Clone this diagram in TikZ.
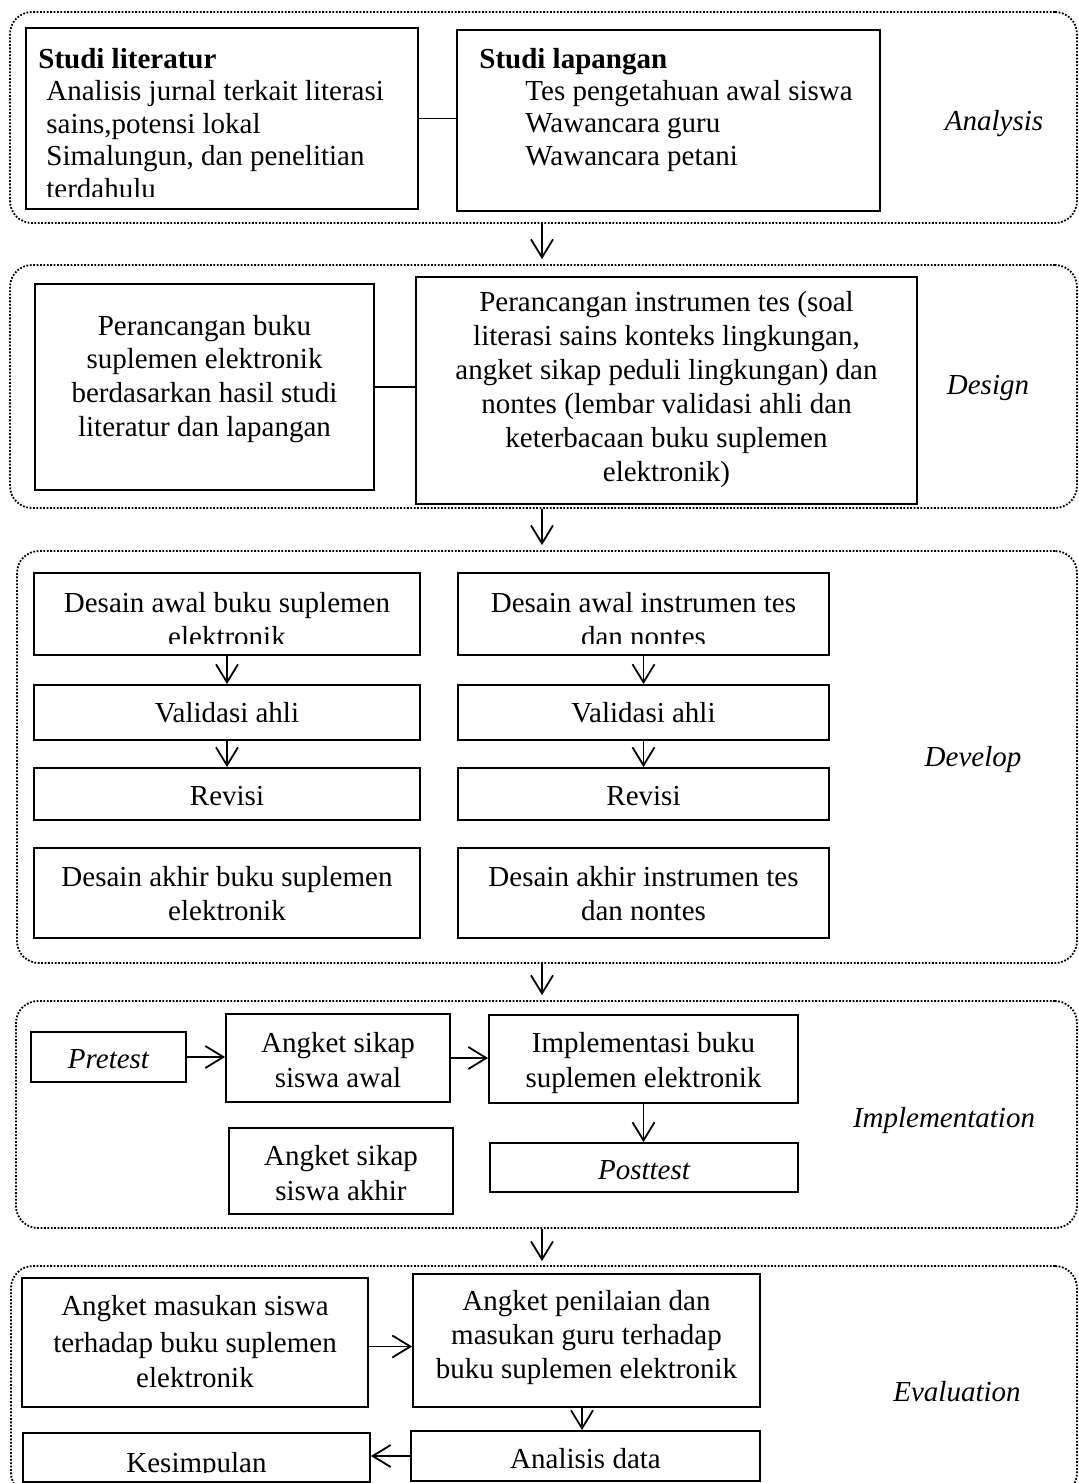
\documentclass[tikz,border=0pt]{standalone}
\usepackage{fontspec}
\setmainfont{Liberation Serif}
\usetikzlibrary{arrows.meta,fit,calc}
\tikzset{
  box/.style={draw, line width=0.95pt, inner sep=0pt, fit={#1}},
  phase/.style={draw, line width=0.9pt, dash pattern=on 0.9pt off 0.8pt, rounded corners=11pt, inner sep=0pt, fit={#1}},
  arr/.style={line width=0.9pt, -{Straight Barb[length=9pt,width=11pt]}},
  link/.style={line width=0.6pt},
  tx/.style={font=\fontsize{14.5}{17}\selectfont, inner sep=0pt, anchor=base},
  txl/.style={tx, anchor=base west},
  txb/.style={txl, font=\fontsize{14.5}{17}\selectfont\bfseries},
  txi/.style={tx, font=\fontsize{14.5}{17}\selectfont\itshape},
}
\begin{document}
\begin{tikzpicture}[x=0.5pt,y=-0.5pt]
\useasboundingbox (0,0) rectangle (1078,1483);
\clip (0,0) rectangle (1078,1483);
\coordinate (mx) at (542,0);
\coordinate (ax) at (582,0);

% ---------------- Analysis
\node[phase={(10,12) (1077,223)}] (fa) {};
\node[box={(26,28) (418,209)}] (sl) {};
\node[box={(457,30) (880,211)}] (slp) {};
\draw[link] (sl.east) -- (sl.east -| slp.west);
\node[txb] (sl1) at (38,68) {Studi literatur};
\node[txl] (sl2) at (46,100.5) {Analisis jurnal terkait literasi};
\node[txl] (sl3) at (46,133) {sains,potensi lokal};
\node[txl] (sl4) at (46,165.5) {Simalungun, dan penelitian};
\begin{scope}
\clip (26,28) rectangle (418,196);
\node[txl] (sl5) at (46,198) {terdahulu};
\end{scope}
\node[txb] (sp1) at (479,68) {Studi lapangan};
\node[txl] (sp2) at (525,100) {Tes pengetahuan awal siswa};
\node[txl] (sp3) at (525,132.5) {Wawancara guru};
\node[txl] (sp4) at (525,165) {Wawancara petani};
\node[txi] (lana) at (994,130) {Analysis};

% ---------------- Design
\node[phase={(10,265) (1077,508)}] (fd) {};
\draw[arr] (fa.south -| mx) -- ($(fd.north -| mx)+(0,-5)$);
\node[box={(35,284) (374,490)}] (dl) {};
\node[box={(416,277) (917,504)}] (dr) {};
\draw[link] (dl.east) -- (dl.east -| dr.west);
\node[tx] (dl1) at (204.5,335) {Perancangan buku};
\node[tx] (dl2) at (204.5,368) {suplemen elektronik};
\node[tx] (dl3) at (204.5,402) {berdasarkan hasil studi};
\node[tx] (dl4) at (204.5,436) {literatur dan lapangan};
\node[tx] (dr1) at (666.5,311) {Perancangan instrumen tes (soal};
\node[tx] (dr2) at (666.5,345) {literasi sains konteks lingkungan,};
\node[tx] (dr3) at (666.5,379) {angket sikap peduli lingkungan) dan};
\node[tx] (dr4) at (666.5,413) {nontes (lembar validasi ahli dan};
\node[tx] (dr5) at (666.5,447) {keterbacaan buku suplemen};
\node[tx] (dr6) at (666.5,481) {elektronik)};
\node[txi] (ldes) at (988,394) {Design};

% ---------------- Develop
\node[phase={(17,551) (1077,963)}] (fv) {};
\draw[arr] (fd.south -| mx) -- ($(fv.north -| mx)+(0,-5)$);
\node[box={(34,573) (420,655)}] (a1) {};
\node[box={(34,685) (420,740)}] (a2) {};
\node[box={(34,768) (420,820)}] (a3) {};
\node[box={(34,848) (420,938)}] (a4) {};
\node[box={(458,573) (829,655)}] (b1) {};
\node[box={(458,685) (829,740)}] (b2) {};
\node[box={(458,768) (829,820)}] (b3) {};
\node[box={(458,848) (829,938)}] (b4) {};
\draw[arr] (a1.south) -- (a2.north);
\draw[arr] (a2.south) -- (a3.north);
\draw[arr] (b1.south) -- (b2.north);
\draw[arr] (b2.south) -- (b3.north);
\node[tx] (a1t1) at (227,612) {Desain awal buku suplemen};
\node[tx] (b1t1) at (643.5,612) {Desain awal instrumen tes};
\begin{scope}
\clip (34,573) rectangle (829,643);
\node[tx] (a1t2) at (227,646) {elektronik};
\node[tx] (b1t2) at (643.5,646) {dan nontes};
\end{scope}
\node[tx] (a2t) at (227,722) {Validasi ahli};
\node[tx] (b2t) at (643.5,722) {Validasi ahli};
\node[tx] (a3t) at (227,805) {Revisi};
\node[tx] (b3t) at (643.5,805) {Revisi};
\node[tx] (a4t1) at (227,886) {Desain akhir buku suplemen};
\node[tx] (a4t2) at (227,920) {elektronik};
\node[tx] (b4t1) at (643.5,886) {Desain akhir instrumen tes};
\node[tx] (b4t2) at (643.5,920) {dan nontes};
\node[txi] (ldev) at (973,766) {Develop};

% ---------------- Implementation
\node[phase={(16,1001) (1077,1228)}] (fi) {};
\draw[arr] (fv.south -| mx) -- ($(fi.north -| mx)+(0,-5)$);
\node[box={(31,1032) (186,1082)}] (pre) {};
\node[box={(226,1014) (450,1102)}] (asa) {};
\node[box={(489,1015) (798,1103)}] (imp) {};
\node[box={(490,1143) (798,1192)}] (post) {};
\node[box={(229,1128) (453,1214)}] (ask) {};
\draw[arr] (pre.east) -- (pre.east -| asa.west);
\draw[arr] (asa.east) -- (asa.east -| imp.west);
\draw[arr] (imp.south) -- (imp.south |- post.north);
\node[txi] (pret) at (108.5,1068) {Pretest};
\node[tx] (asa1) at (338,1052) {Angket sikap};
\node[tx] (asa2) at (338,1087) {siswa awal};
\node[tx] (imp1) at (643.5,1052) {Implementasi buku};
\node[tx] (imp2) at (643.5,1087) {suplemen elektronik};
\node[txi] (postt) at (644,1179) {Posttest};
\node[tx] (ask1) at (341,1165) {Angket sikap};
\node[tx] (ask2) at (341,1200) {siswa akhir};
\node[txi] (limp) at (944,1127) {Implementation};

% ---------------- Evaluation
\node[phase={(11,1266) (1077,1495)}] (fe) {};
\draw[arr] (fi.south -| mx) -- ($(fe.north -| mx)+(0,-4)$);
\node[box={(22,1278) (368,1407)}] (ams) {};
\node[box={(413,1274) (760,1407)}] (ap) {};
\node[box={(411,1431) (760,1481)}] (ad) {};
\node[box={(23,1433) (370,1482)}] (kes) {};
\draw[arr] ([yshift=-2pt]ams.east) -- ([yshift=-2pt]ams.east -| ap.west);
\draw[arr] (ap.south -| ax) -- (ad.north -| ax);
\draw[arr] (ad.west) -- (ad.west -| kes.east);
\node[tx] (ams1) at (195,1315) {Angket masukan siswa};
\node[tx] (ams2) at (195,1352) {terhadap buku suplemen};
\node[tx] (ams3) at (195,1387) {elektronik};
\node[tx] (ap1) at (586.5,1310) {Angket penilaian dan};
\node[tx] (ap2) at (586.5,1344) {masukan guru terhadap};
\node[tx] (ap3) at (586.5,1378) {buku suplemen elektronik};
\node[tx] (adt) at (585.5,1468) {Analisis data};
\begin{scope}
\clip (23,1433) rectangle (370,1472);
\node[tx] (kest) at (196.5,1472) {Kesimpulan};
\end{scope}
\node[txi] (leva) at (957,1401) {Evaluation};
\end{tikzpicture}
\end{document}
